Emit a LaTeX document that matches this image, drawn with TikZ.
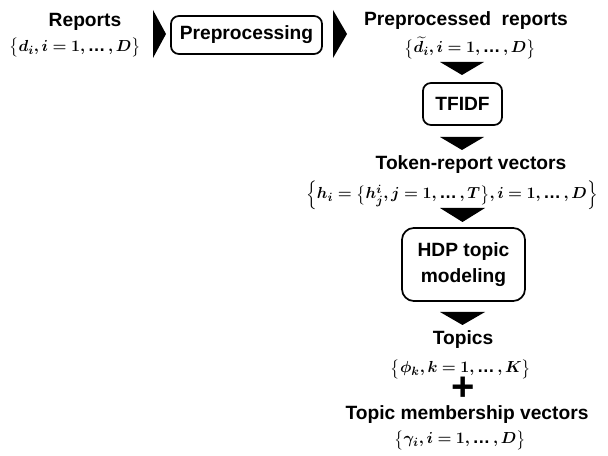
\documentclass[tikz,border=0pt]{standalone}
\usepackage{amsmath}
\usepackage{bm}
\usepackage[no-math]{fontspec}
\setmainfont{Liberation Sans}
\newcommand{\myell}{\mathinner{\text{\bfseries\char"2026}}}
\begin{document}
\begin{tikzpicture}[x=0.75pt,y=-0.75pt,
  txt/.style={font=\bfseries\fontsize{14.4}{17}\selectfont, inner sep=0pt, anchor=base},
  mth/.style={font=\fontsize{13.2}{16}\selectfont, inner sep=0pt, anchor=base},
  proc/.style={draw, line width=1.3pt, rounded corners=6pt, inner sep=0pt,
    font=\bfseries\fontsize{14.4}{20}\selectfont, align=center},
  arrowhead/.style={fill=black}]
\useasboundingbox (0,0) rectangle (608,456);
% texts
\node[txt] (rep) at (85,26.5) {Reports};
\node[mth] (repm) at (75,51.5) {$\bigl\{\bm{d_i, i = 1,} \myell\bm{, D}\bigr\}$};
\node[proc, minimum width=113.3pt, minimum height=28.5pt] (prep) at (246.5,35) {Preprocessing};
\node[txt] (pre) at (466,26) {Preprocessed\ \ reports};
\node[mth] (prem) at (470,53) {$\bigl\{\bm{\widetilde{d}_i, i = 1,} \myell\bm{, D}\bigr\}$};
\node[proc, minimum width=59.3pt, minimum height=31.5pt] (tfidf) at (462.5,104) {TFIDF};
\node[txt] (tok) at (471,170) {Token-report vectors};
\node[mth] (tokm) at (452,199) {$\Bigl\{\bm{h_i = }\bigl\{\bm{h_j^i, j = 1,} \myell\bm{, T}\bigr\}\bm{, i = 1,} \myell\bm{, D}\Bigr\}$};
\node[proc, rounded corners=9pt, minimum width=92.3pt, minimum height=54.8pt] (hdp) at (463.5,264.5) {HDP topic\\modeling};
\node[txt] (top) at (463,345) {Topics};
\node[mth] (topm) at (461,373) {$\bigl\{\bm{\phi_k, k = 1,} \myell\bm{, K}\bigr\}$};
\node[font=\bfseries\fontsize{30}{30}\selectfont, inner sep=0pt] (plus) at (463,389) {+};
\node[txt] (mem) at (467,420) {Topic membership vectors};
\node[mth] (memm) at (460,444) {$\bigl\{\bm{\gamma_i, i = 1,} \myell\bm{, D}\bigr\}$};
% arrowheads
\fill[arrowhead] (153,10) -- (166,34) -- (153,58) -- cycle;
\fill[arrowhead] (333,10) -- (347,34) -- (333,58) -- cycle;
\fill[arrowhead] (440,62) -- (484,62) -- (462,75) -- cycle;
\fill[arrowhead] (440,137) -- (484,137) -- (462,150) -- cycle;
\fill[arrowhead] (440,208) -- (485,208) -- (462.5,222) -- cycle;
\fill[arrowhead] (440,312) -- (485,312) -- (462.5,325) -- cycle;
\end{tikzpicture}
\end{document}
